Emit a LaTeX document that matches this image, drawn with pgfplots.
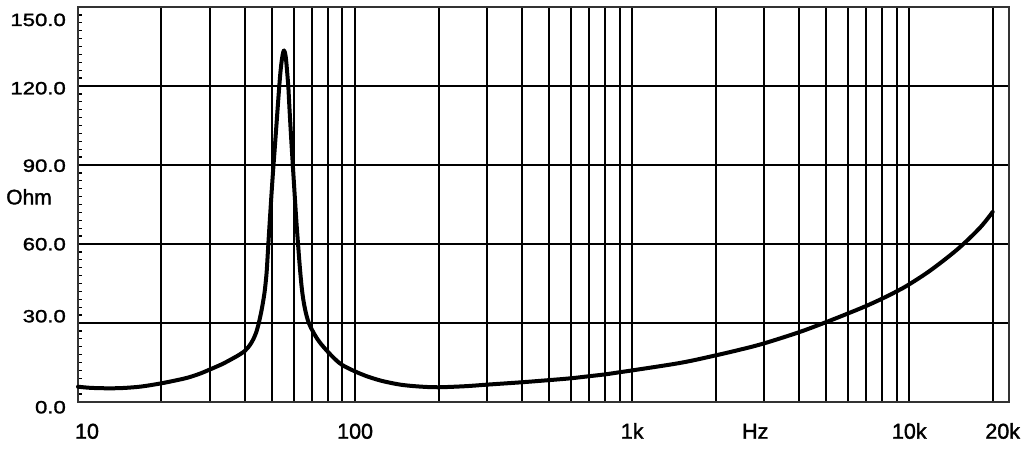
\documentclass[border=0pt]{standalone}
\usepackage{fontspec}
\setmainfont{Liberation Sans}[FakeBold=1.6]
\newfontfamily\yfont{Liberation Sans}[FakeStretch=1.25,FakeBold=1.6]
\usepackage{pgfplots}
\pgfplotsset{compat=1.18}
\newcommand{\yl}[2]{\smash{\raisebox{#1}{\yfont\fontsize{17.7bp}{18bp}\selectfont #2}}}
\begin{document}
\begin{tikzpicture}
\begin{semilogxaxis}[
  scale only axis,
  width=931bp, height=395bp,
  xmin=10, xmax=22900,
  ymin=0, ymax=150,
  xtick={10,100,1000,10000,20000},
  xticklabels={\hspace{18bp}10,100,1k,10k,\hspace{20bp}20k},
  minor xtick={20,30,40,50,60,70,80,90,200,300,400,500,600,700,800,900,2000,3000,4000,5000,6000,7000,8000,9000},
  ytick={0,30,60,90,120,150},
  yticklabels={{\yl{-11.3bp}{0.0}},{\yl{0.7bp}{30.0}},{\yl{-6.3bp}{60.0}},{\yl{-6.8bp}{90.0}},{\yl{-8.3bp}{120.0}},{\yl{-19bp}{150.0}}},
  minor y tick num=9,
  xmajorgrids, xminorgrids, ymajorgrids,
  grid style={black, line width=2bp},
  minor grid style={black, line width=2bp},
  axis line style={black!80, line width=1.8bp},
  tick pos=left,
  tick align=inside,
  major tick length=0pt,
  minor tick length=4bp,
  minor x tick style={draw=none},
  minor y tick style={black, line width=1.3bp},
  yticklabel style={anchor=east, inner sep=0pt, xshift=-12bp},
  xticklabel style={anchor=base, inner sep=0pt, yshift=-36.7bp, font=\fontsize{21.5bp}{22bp}\selectfont},
  clip=false,
]
\addplot[black, line width=4bp, line join=round, line cap=round, smooth, tension=0.55] coordinates {
(10,5.8) (11,5.4) (12,5.25) (13,5.2) (14,5.25) (15,5.4) (17,5.9) (20,7.1)
(23,8.4) (25,9.3) (27.6,10.8) (30,12.4) (33,14.3) (35,15.7) (38,17.8) (40,19.4)
(41,20.6) (42,22.1) (43,24.0) (44,26.5) (44.5,28.3) (45,30.3) (46,35) (47,40.8)
(47.5,44.8) (48,50) (48.6,59.5) (49.3,70) (50,80) (50.6,88) (51.1,94) (52,105) (53,117)
(53.8,125.5) (54.6,131) (55.4,133.5) (56.2,131) (57,124) (57.4,120) (58,111)
(58.8,100) (59.6,90) (60.5,79) (61.4,68.5) (62.4,58.5) (63.2,51) (64.1,44)
(65,39) (66,35.2) (67,32.3) (68.2,29.8) (70,27.3) (72,25) (75,22.3) (80,18.9)
(85,16.1) (90,14) (100,11.6) (110,9.8) (116,9.0) (125,8.0) (140,6.9) (153,6.3)
(175,5.8) (200,5.6) (250,6.0) (300,6.6) (400,7.5) (500,8.3) (600,9.0) (700,9.8)
(800,10.5) (900,11.3) (1000,12.0) (1500,14.9) (2000,17.7) (2500,20.1) (3000,22.3)
(4000,26.5) (5000,30.3) (6000,33.6) (7000,36.5) (8000,39.3) (9000,42.0)
(10000,44.7) (12000,50.2) (15000,58.2) (18000,66.2) (20000,72.2)
};
\node[font=\fontsize{21.5bp}{22bp}\selectfont, anchor=base, inner sep=0pt] at ([yshift=-36.7bp]axis cs:2780,0) {Hz};
\node[font=\fontsize{21bp}{22bp}\selectfont, anchor=center, inner sep=0pt] at ([xshift=-49bp]axis cs:10,77.9) {Ohm};
\end{semilogxaxis}
\pgfresetboundingbox
\path[use as bounding box] (-78bp,-51bp) rectangle (946bp,402bp);
\end{tikzpicture}
\end{document}
